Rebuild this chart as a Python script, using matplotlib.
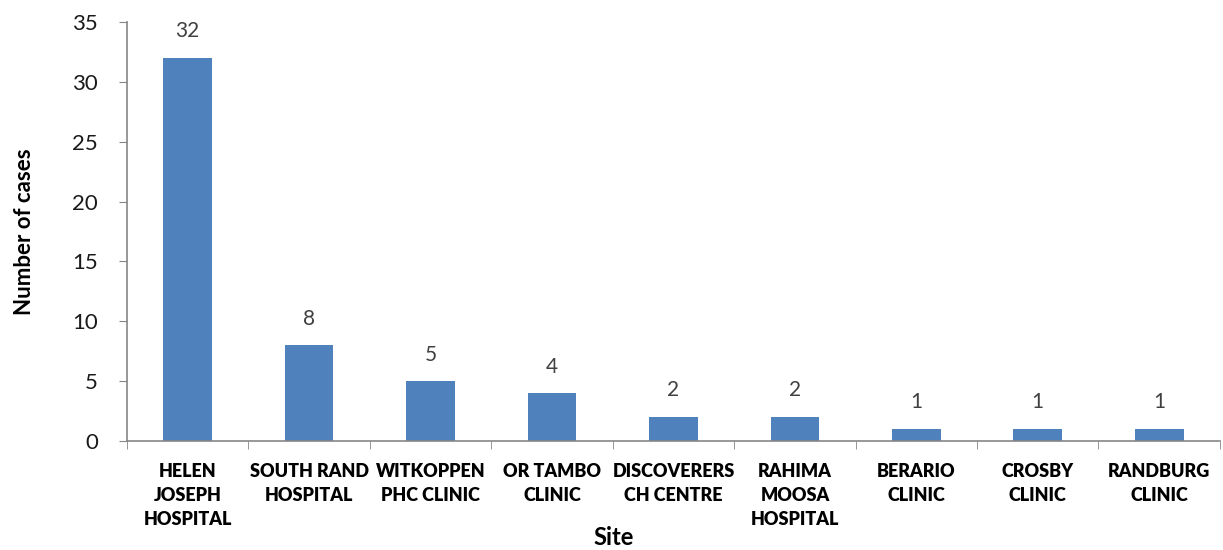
import matplotlib
matplotlib.use("Agg")
import matplotlib.pyplot as plt
from matplotlib.ticker import FixedLocator

sites = ["HELEN\nJOSEPH\nHOSPITAL", "SOUTH RAND\nHOSPITAL", "WITKOPPEN\nPHC CLINIC",
         "OR TAMBO\nCLINIC", "DISCOVERERS\nCH CENTRE", "RAHIMA\nMOOSA\nHOSPITAL",
         "BERARIO\nCLINIC", "CROSBY\nCLINIC", "RANDBURG\nCLINIC"]
cases = [32, 8, 5, 4, 2, 2, 1, 1, 1]

plt.rcParams['font.family'] = ['Lato', 'DejaVu Sans']

fig = plt.figure(figsize=(12.23, 5.5), dpi=100)
ax = fig.add_axes([0.1038, 0.198, 0.8937, 0.762])

x = list(range(len(sites)))
ax.bar(x, cases, width=0.4, color="#4F81BD", zorder=2)
for xi, v in zip(x, cases):
    ax.annotate(str(v), (xi, v), xytext=(0, 12), textcoords="offset points",
                ha="center", va="bottom", fontsize=15, color="#404040")

ax.set_xlim(-0.5, len(sites) - 0.5)
ax.set_ylim(0, 35)
ax.set_yticks(range(0, 36, 5))
ax.tick_params(axis="y", labelsize=16, length=6, color="#868686", pad=15,
               labelcolor="#1a1a1a")

ax.set_xticks(x)
ax.set_xticklabels(sites, fontsize=13, fontweight="heavy", linespacing=1.5)
ax.tick_params(axis="x", which="major", length=0, pad=16)
ax.xaxis.set_minor_locator(FixedLocator([i - 0.5 for i in range(len(sites) + 1)]))
ax.tick_params(axis="x", which="minor", length=6, color="#868686")

for s in ["top", "right"]:
    ax.spines[s].set_visible(False)
for s in ["left", "bottom"]:
    ax.spines[s].set_color("#868686")
    ax.spines[s].set_linewidth(1.2)

ax.set_ylabel("Number of cases", fontsize=16, fontweight="bold", va="center")
ax.yaxis.set_label_coords(-0.094, 0.5)
ax.set_xlabel("Site", fontsize=17, fontweight="bold", va="center")
ax.xaxis.set_label_coords(0.445, -0.231)

fig.savefig("out.png", dpi=100)
